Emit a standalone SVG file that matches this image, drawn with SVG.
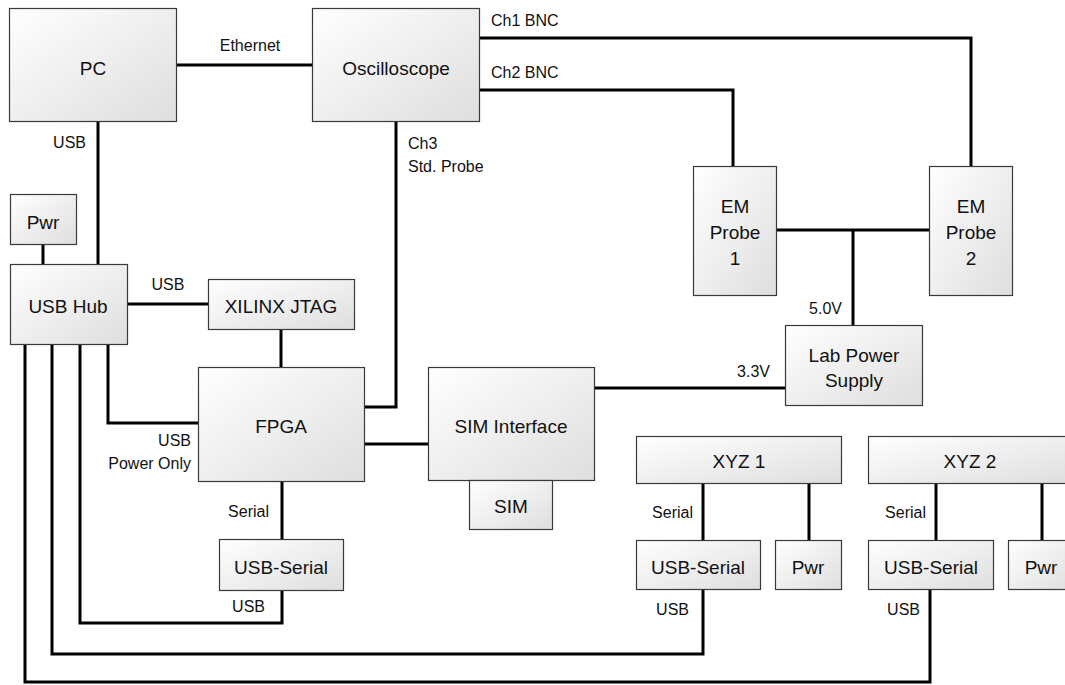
<svg xmlns="http://www.w3.org/2000/svg" width="1065" height="685" viewBox="0 0 1065 685">
<defs>
<linearGradient id="g" x1="0" y1="0" x2="1" y2="1">
<stop offset="0" stop-color="#ffffff"/>
<stop offset="1" stop-color="#dedede"/>
</linearGradient>
<style>
.n rect{fill:url(#g);stroke:#3a3a3a;stroke-width:1.2}
.n text{font-family:"Liberation Sans",Arial,sans-serif;font-size:19px;fill:#111;text-anchor:middle}
.c path{fill:none;stroke:#000;stroke-width:3;stroke-linejoin:miter;stroke-linecap:butt}
.l{font-family:"Liberation Sans",Arial,sans-serif;font-size:16px;fill:#111}
.e{text-anchor:end}
.m{text-anchor:middle}
</style>
</defs>
<rect width="1065" height="685" fill="#fff"/>
<g class="c" id="connectors">
<path d="M176 65H312"/>
<path d="M98 121V264"/>
<path d="M43 244V264"/>
<path d="M479 38H971V166"/>
<path d="M479 90H733V166"/>
<path d="M396 121V407H364"/>
<path d="M776 230H929"/>
<path d="M853 230V325"/>
<path d="M594 388H785"/>
<path d="M127 304H208"/>
<path d="M281 329V367"/>
<path d="M108 344V423H198"/>
<path d="M364 444H428"/>
<path d="M282 481V539"/>
<path d="M282 590V623H80V344"/>
<path d="M703 589V654H52V344"/>
<path d="M930 589V682H25V344"/>
<path d="M703 483V540"/>
<path d="M809 483V540"/>
<path d="M936 483V540"/>
<path d="M1042 483V540"/>
<text class="l m" x="250" y="51">Ethernet</text>
<text class="l e" x="86" y="148">USB</text>
<text class="l" x="408" y="149">Ch3</text>
<text class="l" x="408" y="172">Std. Probe</text>
<text class="l" x="491" y="26">Ch1 BNC</text>
<text class="l" x="491" y="78">Ch2 BNC</text>
<text class="l e" x="842" y="314">5.0V</text>
<text class="l e" x="770" y="377">3.3V</text>
<text class="l m" x="168" y="290">USB</text>
<text class="l e" x="191" y="446">USB</text>
<text class="l e" x="191" y="469">Power Only</text>
<text class="l e" x="269" y="517">Serial</text>
<text class="l e" x="265" y="612">USB</text>
<text class="l e" x="693" y="518">Serial</text>
<text class="l e" x="689" y="615">USB</text>
<text class="l e" x="926" y="518">Serial</text>
<text class="l e" x="920" y="615">USB</text>
</g>
<g class="n" id="pc"><rect x="9.5" y="8.5" width="167" height="113"/><text x="93" y="75">PC</text></g>
<g class="n" id="oscilloscope"><rect x="312.5" y="8.5" width="167" height="113"/><text x="396" y="75">Oscilloscope</text></g>
<g class="n" id="pwr0"><rect x="10.5" y="194.5" width="66" height="50"/><text x="43" y="229">Pwr</text></g>
<g class="n" id="usbhub"><rect x="10.5" y="264.5" width="117" height="80"/><text x="68" y="313">USB Hub</text></g>
<g class="n" id="jtag"><rect x="208.5" y="279.5" width="146" height="50"/><text x="281" y="313">XILINX JTAG</text></g>
<g class="n" id="fpga"><rect x="198.5" y="367.5" width="166" height="114"/><text x="281" y="433">FPGA</text></g>
<g class="n" id="siminterface"><rect x="428.5" y="367.5" width="166" height="113"/><text x="511" y="433">SIM Interface</text></g>
<g class="n" id="sim"><rect x="469.5" y="480.5" width="83" height="49"/><text x="511" y="513">SIM</text></g>
<g class="n" id="emprobe1"><rect x="693.5" y="166.5" width="83" height="129"/><text x="735" y="213">EM</text><text x="735" y="239">Probe</text><text x="735" y="265">1</text></g>
<g class="n" id="emprobe2"><rect x="929.5" y="166.5" width="83" height="129"/><text x="971" y="213">EM</text><text x="971" y="239">Probe</text><text x="971" y="265">2</text></g>
<g class="n" id="labpower"><rect x="785.5" y="325.5" width="137" height="80"/><text x="854" y="362">Lab Power</text><text x="854" y="387">Supply</text></g>
<g class="n" id="xyz1"><rect x="636.5" y="436.5" width="205" height="47"/><text x="739" y="468">XYZ 1</text></g>
<g class="n" id="xyz2"><rect x="868.5" y="436.5" width="205" height="47"/><text x="970" y="468">XYZ 2</text></g>
<g class="n" id="usbserial0"><rect x="219.5" y="539.5" width="124" height="51"/><text x="281" y="574">USB-Serial</text></g>
<g class="n" id="usbserial1"><rect x="636.5" y="540.5" width="124" height="49"/><text x="698" y="574">USB-Serial</text></g>
<g class="n" id="pwr1"><rect x="775.5" y="540.5" width="66" height="49"/><text x="808" y="574">Pwr</text></g>
<g class="n" id="usbserial2"><rect x="868.5" y="540.5" width="125" height="49"/><text x="931" y="574">USB-Serial</text></g>
<g class="n" id="pwr2"><rect x="1008.5" y="540.5" width="66" height="49"/><text x="1041" y="574">Pwr</text></g>
</svg>
